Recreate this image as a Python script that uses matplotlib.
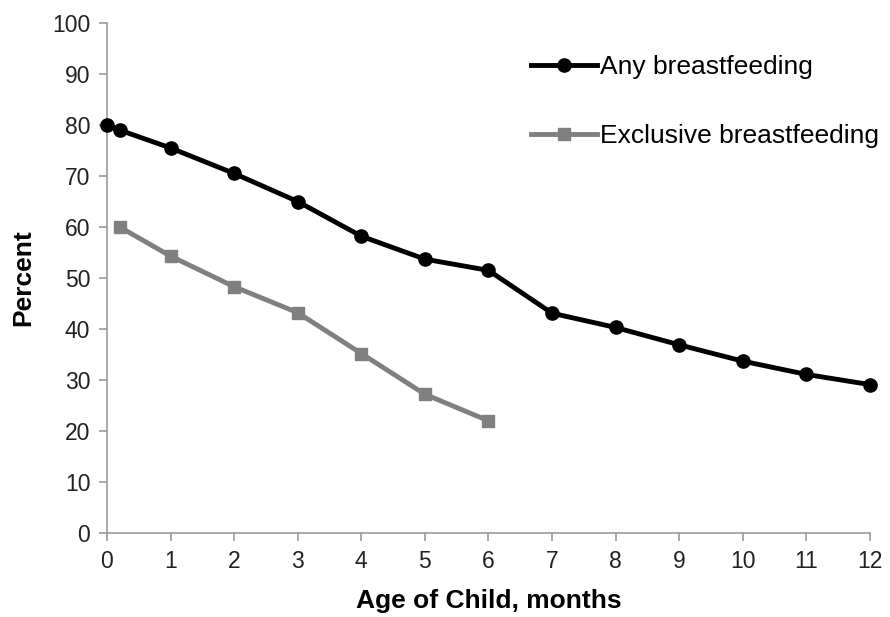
import matplotlib
matplotlib.use('Agg')
import matplotlib.pyplot as plt

plt.rcParams['font.family'] = ['Liberation Sans', 'DejaVu Sans']

# age in months and percent of children
any_age = [0, 0.2, 1, 2, 3, 4, 5, 6, 7, 8, 9, 10, 11, 12]
any_pct = [80, 79, 75.5, 70.5, 65, 58.2, 53.7, 51.5, 43.1, 40.3, 36.9, 33.7, 31.1, 29.1]
excl_age = [0.2, 1, 2, 3, 4, 5, 6]
excl_pct = [60, 54.3, 48.3, 43.2, 35.2, 27.2, 22]

xticks = list(range(0, 13))
yticks = list(range(0, 101, 10))

fig = plt.figure(figsize=(8.9, 6.17), dpi=100)
ax = fig.add_axes([0.1202, 0.1361, 0.8573, 0.8266])

ax.plot(any_age, any_pct, color='black', lw=3.5, marker='o', ms=9.5,
        label='Any breastfeeding', clip_on=False, zorder=3)
ax.plot(excl_age, excl_pct, color='#808080', lw=3.5, marker='s', ms=9,
        label='Exclusive breastfeeding', clip_on=False, zorder=3)

ax.set_xlim(0, 12)
ax.set_ylim(0, 100)
ax.set_xticks(xticks)
ax.set_yticks(yticks)

for s in ['top', 'right']:
    ax.spines[s].set_visible(False)
for s in ['left', 'bottom']:
    ax.spines[s].set_color('#999999')
    ax.spines[s].set_linewidth(1.2)
ax.tick_params(direction='out', length=6, width=1.2, color='#999999',
               labelsize=16.5, labelcolor='#222222')
ax.tick_params(axis='x', pad=6)
ax.tick_params(axis='y', pad=6)

ax.set_xlabel('Age of Child, months', fontsize=19, fontweight='bold', labelpad=12)
ax.set_ylabel('Percent', fontsize=19, fontweight='bold', labelpad=12)

leg = ax.legend(loc='upper left', bbox_to_anchor=(0.556, 0.937), frameon=False,
                fontsize=19, labelspacing=1.7, handlelength=2.5,
                handletextpad=0.1, borderaxespad=0, borderpad=0)

fig.savefig('out.png', dpi=100)
